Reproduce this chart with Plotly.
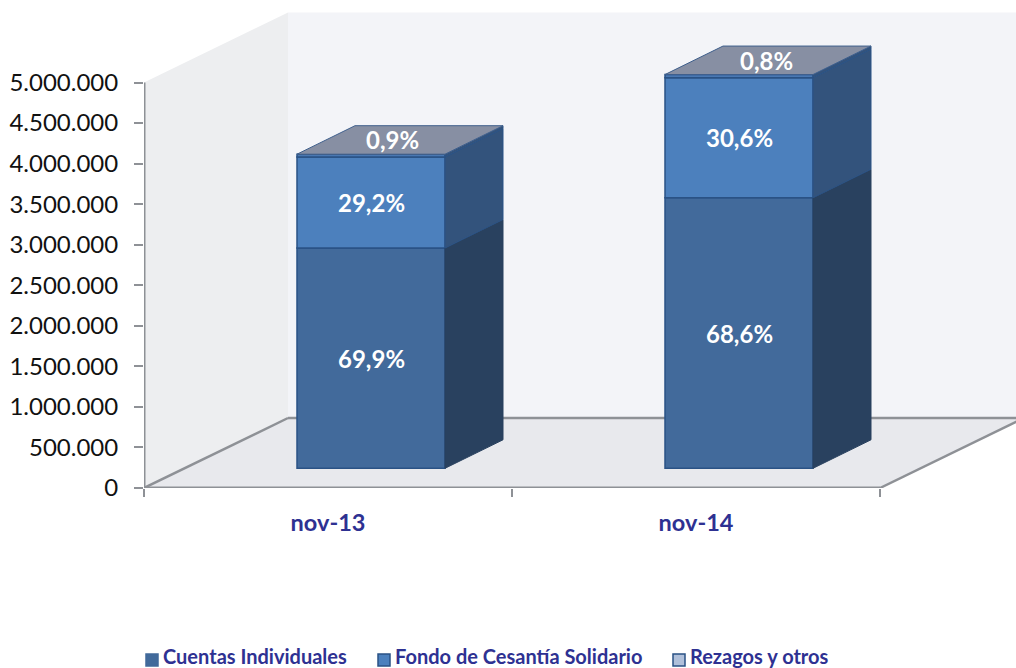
import plotly.graph_objects as go

# --- data ---
categories = ["nov-13", "nov-14"]
cuentas = [2716000, 3336000]
fondo = [1122000, 1480000]
rezagos = [35000, 39000]
pct_cuentas = ["69,9%", "68,6%"]
pct_fondo = ["29,2%", "30,6%"]
pct_rezagos = ["0,9%", "0,8%"]
y_ticks = [0, 500000, 1000000, 1500000, 2000000, 2500000, 3000000, 3500000, 4000000, 4500000, 5000000]
y_tick_labels = ["0", "500.000", "1.000.000", "1.500.000", "2.000.000", "2.500.000",
                 "3.000.000", "3.500.000", "4.000.000", "4.500.000", "5.000.000"]
legend_names = ["Cuentas Individuales", "Fondo de Cesantía Solidario", "Rezagos y otros"]

# --- style / pseudo-3D projection ---
W, H = 1016, 668
L, B = 144, 180
PX_X = 368.0          # pixels per category
PX_Y = 81.1 / 1e6     # pixels per unit
X0, X1, XMAX = -0.5, 1.5, 1.5 + 136 / PX_X
YMAX = (H - B) / PX_Y
YAX_TOP = 5000000
FLOOR_DX, FLOOR_DY = 144 / PX_X, 70 / PX_Y
BAR_SHIFT, BAR_BASE = 43 / PX_X, 19.7 / PX_Y
BAR_W = 148 / PX_X
BAR_DX, BAR_DY = 58 / PX_X, 28.5 / PX_Y

GRAY = "#8e9196"
NAVY = "#2e3192"
BORDER = "#2a5285"
FRONT = ["#426a9b", "#4c80bd", "#4a78b2"]
SIDE = ["#29415f", "#33537c", "#33537c"]
TOP = "#878fa3"
FONT = "Lato"

fig = go.Figure()
xs = [i + BAR_SHIFT for i in range(len(categories))]
series = [cuentas, fondo, rezagos]
bases = [[BAR_BASE] * 2, [BAR_BASE + c for c in cuentas],
         [BAR_BASE + c + f for c, f in zip(cuentas, fondo)]]

for s, vals in enumerate(series):
    fig.add_trace(go.Bar(x=xs, y=vals, base=bases[s], width=BAR_W, name=legend_names[s],
                         marker=dict(color=FRONT[s], line=dict(color=BORDER, width=1.5)),
                         showlegend=False))


def poly(xv, yv, fill, line=BORDER, w=1):
    fig.add_trace(go.Scatter(x=xv + xv[:1], y=yv + yv[:1], mode="lines", fill="toself",
                             fillcolor=fill, line=dict(color=line, width=w),
                             showlegend=False, hoverinfo="skip"))


for i, x in enumerate(xs):
    r = x + BAR_W / 2
    l = x - BAR_W / 2
    for s, vals in enumerate(series):
        y0, y1 = bases[s][i], bases[s][i] + vals[i]
        poly([r, r + BAR_DX, r + BAR_DX, r], [y0, y0 + BAR_DY, y1 + BAR_DY, y1], SIDE[s], SIDE[s] if s == 0 else BORDER)
    t = bases[2][i] + rezagos[i]
    poly([l, r, r + BAR_DX, l + BAR_DX], [t, t, t + BAR_DY, t + BAR_DY], TOP, "#3f5f8c")

# axis lines
for xv, yv in [([X0, X0], [0, YAX_TOP]), ([X0, X1], [0, 0])]:
    fig.add_trace(go.Scatter(x=xv, y=yv, mode="lines", line=dict(color=GRAY, width=3),
                             cliponaxis=False, showlegend=False, hoverinfo="skip"))


def path(pts):
    return "M " + " L ".join(f"{a},{b}" for a, b in pts) + " Z"


shapes = [
    dict(type="path", layer="below", xref="x", yref="y", line_width=0, fillcolor="#edeef0",
         path=path([(X0, 0), (X0, YAX_TOP), (X0 + FLOOR_DX, YAX_TOP + FLOOR_DY), (X0 + FLOOR_DX, FLOOR_DY)])),
    dict(type="path", layer="below", xref="x", yref="y", line_width=0, fillcolor="#f3f4f8",
         path=path([(X0 + FLOOR_DX, FLOOR_DY), (X0 + FLOOR_DX, YAX_TOP + FLOOR_DY), (XMAX, YAX_TOP + FLOOR_DY), (XMAX, FLOOR_DY)])),
    dict(type="path", layer="below", xref="x", yref="y", line_width=0, fillcolor="#e8e9ed",
         path=path([(X0, 0), (X0 + FLOOR_DX, FLOOR_DY), (X1 + FLOOR_DX, FLOOR_DY), (X1, 0)])),
    dict(type="line", layer="below", xref="x", yref="y", x0=X0, y0=0, x1=X0 + FLOOR_DX, y1=FLOOR_DY,
         line=dict(color=GRAY, width=2.5)),
    dict(type="line", layer="below", xref="x", yref="y", x0=X0 + FLOOR_DX, y0=FLOOR_DY, x1=XMAX, y1=FLOOR_DY,
         line=dict(color=GRAY, width=2.5)),
    dict(type="line", layer="below", xref="x", yref="y", x0=X1, y0=0, x1=X1 + FLOOR_DX, y1=FLOOR_DY,
         line=dict(color=GRAY, width=2.5)),
]

# data labels
annotations = []
lab = dict(showarrow=False, xref="x", yref="y", font=dict(family=FONT, size=24, color="white", weight="bold"))
top_shift = [-8, -2]
for i, x in enumerate(xs):
    annotations.append(dict(x=x, y=bases[0][i] + cuentas[i] / 2, text=pct_cuentas[i], **lab))
    annotations.append(dict(x=x, y=bases[1][i] + fondo[i] / 2, text=pct_fondo[i], **lab))
    annotations.append(dict(x=x + BAR_DX / 2, y=bases[2][i] + rezagos[i] + BAR_DY / 2, xshift=top_shift[i],
                            text=pct_rezagos[i], **lab))

# legend (drawn to match the reference's tight swatch-to-text spacing)
swatch_x = [146, 378, 673]
swatch_fill = [FRONT[0], FRONT[1], "#b0c0da"]
swatch_line = [FRONT[0], BORDER, BORDER]
for px, name, fc, lc in zip(swatch_x, legend_names, swatch_fill, swatch_line):
    shapes.append(dict(type="rect", xref="paper", yref="paper", layer="above",
                       x0=(px - L) / (W - L), x1=(px + 12 - L) / (W - L),
                       y0=(488 - 666) / 488, y1=(488 - 654) / 488,
                       fillcolor=fc, line=dict(color=lc, width=1.5)))
    annotations.append(dict(xref="paper", yref="paper", x=(px + 15 - L) / (W - L), y=(488 - 656) / 488,
                            xanchor="left", yanchor="middle", showarrow=False, text=name,
                            font=dict(family=FONT, size=20, color=NAVY, weight="bold")))

fig.update_layout(
    width=W, height=H, barmode="overlay", showlegend=False,
    margin=dict(l=L, r=0, t=0, b=B, pad=0),
    paper_bgcolor="white", plot_bgcolor="white",
    shapes=shapes, annotations=annotations,
    xaxis=dict(range=[X0, XMAX], tickmode="array", tickvals=[0, 1], ticktext=categories,
               ticks="", showgrid=False, zeroline=False, showline=False,
               ticklabelstandoff=18,
               tickfont=dict(family=FONT, size=23.5, color=NAVY, weight="bold"),
               minor=dict(tickmode="array", tickvals=[-0.5, 0.5, 1.5], ticks="outside", ticklen=8,
                          tickcolor=GRAY, tickwidth=2, showgrid=False)),
    yaxis=dict(range=[0, YMAX], tickmode="array", tickvals=y_ticks, ticktext=y_tick_labels,
               ticks="outside", ticklen=9, tickcolor=GRAY, tickwidth=2, showgrid=False,
               zeroline=False, showline=False, ticklabelstandoff=11,
               tickfont=dict(family=FONT, size=24, color="#111111")),
)
fig.write_html("out.html", config={"displayModeBar": False},
               post_script="document.body.style.margin='0';document.documentElement.style.overflow='hidden';")
